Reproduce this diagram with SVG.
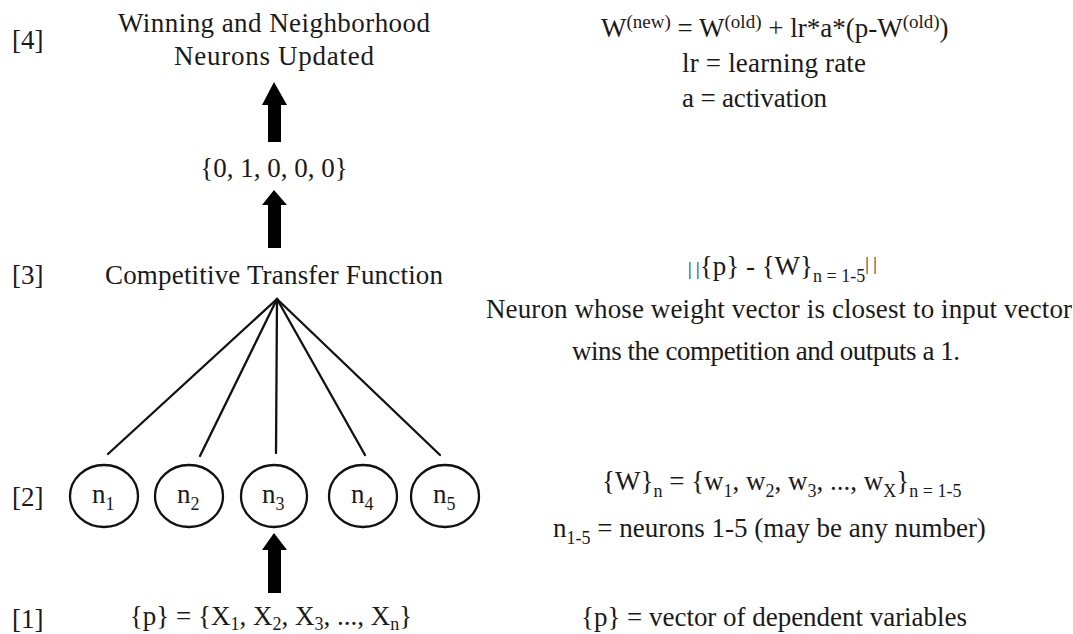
<svg xmlns="http://www.w3.org/2000/svg" width="1073" height="634" viewBox="0 0 1073 634">
<style>
text{font-family:"Liberation Serif","Times New Roman",serif;fill:#1a1a1a;font-size:27px}
.m{text-anchor:middle}
.sub{font-size:18px}
.sup{font-size:19px}
.bar{font-size:18px}
.node{fill:#fff;stroke:#111;stroke-width:2.3}
.edge{stroke:#111;stroke-width:2.3;fill:none;stroke-linecap:round}
.arrow{fill:#000}
</style>
<rect width="1073" height="634" fill="#fff"/>
<g id="labels">
<text x="12" y="49">[4]</text>
<text x="12" y="284">[3]</text>
<text x="12" y="506">[2]</text>
<text x="12" y="628">[1]</text>
</g>
<g id="step4">
<text class="m" x="274" y="32" textLength="312">Winning and Neighborhood</text>
<text class="m" x="274" y="65" textLength="200">Neurons Updated</text>
</g>
<g id="output">
<text class="m" x="274" y="177">{0, 1, 0, 0, 0}</text>
</g>
<g id="transfer">
<text class="m" x="274" y="284" textLength="338">Competitive Transfer Function</text>
</g>
<g id="input">
<text class="m" x="271" y="625">{p} = {X<tspan class="sub" dy="5">1</tspan><tspan dy="-5">, X</tspan><tspan class="sub" dy="5">2</tspan><tspan dy="-5">, X</tspan><tspan class="sub" dy="5">3</tspan><tspan dy="-5">, ..., X</tspan><tspan class="sub" dy="5">n</tspan><tspan dy="-5">}</tspan></text>
</g>
<g id="connectors">
<path class="arrow" d="M274,82 L287,105 L281,105 L281,142 L268,142 L268,105 L262,105 Z"/>
<path class="arrow" d="M274,190 L287,205 L281,205 L281,248 L268,248 L268,205 L262,205 Z"/>
<path class="arrow" d="M274,533 L287,550 L281,550 L281,593 L268,593 L268,550 L262,550 Z"/>
<line class="edge" x1="277" y1="299" x2="108" y2="454"/>
<line class="edge" x1="277" y1="299" x2="200" y2="456"/>
<line class="edge" x1="277" y1="299" x2="276" y2="453"/>
<line class="edge" x1="277" y1="299" x2="365" y2="455"/>
<line class="edge" x1="277" y1="299" x2="440" y2="455"/>
</g>
<g id="n1"><ellipse class="node" cx="104" cy="496" rx="34" ry="31"/><text x="92" y="503">n<tspan class="sub" dy="7">1</tspan></text></g>
<g id="n2"><ellipse class="node" cx="189" cy="496" rx="34" ry="31"/><text x="177" y="503">n<tspan class="sub" dy="7">2</tspan></text></g>
<g id="n3"><ellipse class="node" cx="274" cy="496" rx="33" ry="31"/><text x="262" y="503">n<tspan class="sub" dy="7">3</tspan></text></g>
<g id="n4"><ellipse class="node" cx="363" cy="496" rx="34" ry="31"/><text x="351" y="503">n<tspan class="sub" dy="7">4</tspan></text></g>
<g id="n5"><ellipse class="node" cx="445" cy="496" rx="34" ry="31"/><text x="433" y="503">n<tspan class="sub" dy="7">5</tspan></text></g>
<g id="notes">
<text x="601" y="37">W<tspan class="sup" dy="-9">(new)</tspan><tspan dy="9"> = W</tspan><tspan class="sup" dy="-9">(old)</tspan><tspan dy="9"> + lr*a*(p-W</tspan><tspan class="sup" dy="-9">(old)</tspan><tspan dy="9">)</tspan></text>
<text x="682" y="72" textLength="184">lr = learning rate</text>
<text x="682" y="107" textLength="145">a = activation</text>
<text x="688" y="275"><tspan class="bar">| |</tspan>{p} - {W}<tspan class="sub" dy="7">n = 1-5</tspan><tspan class="bar" dy="-12">| |</tspan></text>
<text class="m" x="779" y="318" textLength="586">Neuron whose weight vector is closest to input vector</text>
<text class="m" x="766" y="360" textLength="388">wins the competition and outputs a 1.</text>
<text x="602" y="490">{W}<tspan class="sub" dy="7">n</tspan><tspan dy="-7"> = {w</tspan><tspan class="sub" dy="7">1</tspan><tspan dy="-7">, w</tspan><tspan class="sub" dy="7">2</tspan><tspan dy="-7">, w</tspan><tspan class="sub" dy="7">3</tspan><tspan dy="-7">, ..., w</tspan><tspan class="sub" dy="7">X</tspan><tspan dy="-7">}</tspan><tspan class="sub" dy="7">n = 1-5</tspan></text>
<text x="553" y="537">n<tspan class="sub" dy="7">1-5</tspan><tspan dy="-7"> = neurons 1-5 (may be any number)</tspan></text>
<text x="581" y="626" textLength="386">{p} = vector of dependent variables</text>
</g>
</svg>
